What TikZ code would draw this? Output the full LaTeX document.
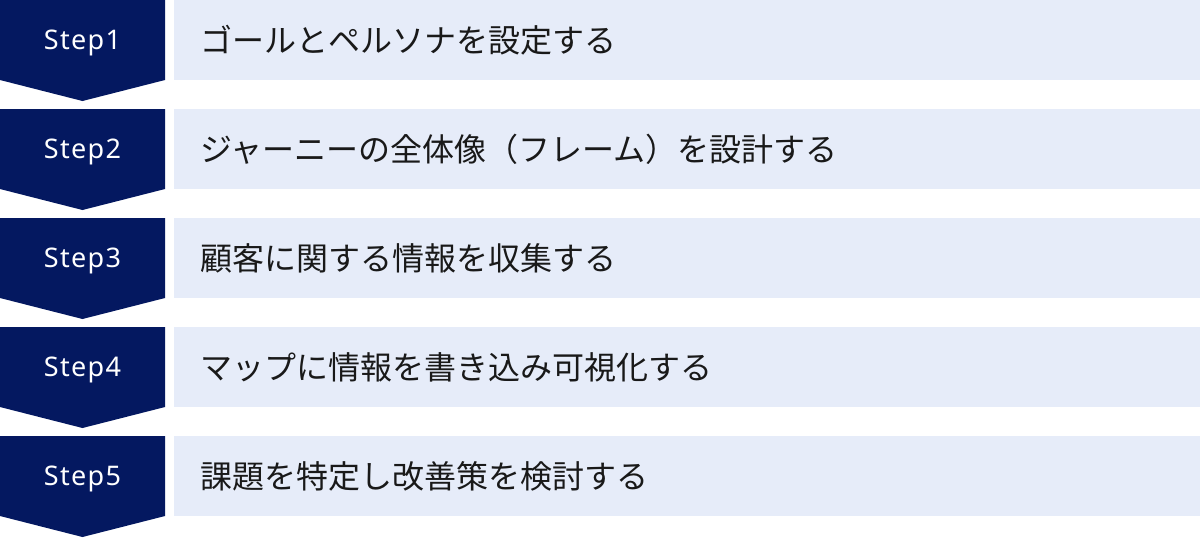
\documentclass[tikz,border=0pt]{standalone}
\usepackage{fontspec}
\setmainfont{Noto Sans}
\newfontfamily\jpfont{Noto Sans CJK JP}
\newfontfamily\stepfont[LetterSpace=5]{Noto Sans}
\usepackage{tikz}

\definecolor{navy}{HTML}{041860}
\definecolor{paleblue}{HTML}{E6ECF9}

\begin{document}
\begin{tikzpicture}[x=0.5pt,y=-0.5pt,
        stepchev/.style={fill=navy},
        steplabel/.style={anchor=base, inner sep=0pt, text=white, font=\stepfont\fontsize{13.5pt}{16pt}\selectfont},
        taskbox/.style={fill=paleblue},
        tasktext/.style={anchor=west, inner sep=0pt, text height=14.1pt, text depth=1.9pt, text=black!90, font=\jpfont\fontsize{16pt}{19pt}\selectfont}]
        \useasboundingbox (0,0) rectangle (1200,538);

        % Step 1
        \fill[stepchev] (0,0) -- (165,0) -- (165,80) -- (82.5,101) -- (0,80) -- cycle;
        \node[steplabel] (step1) at (82.5,49.5) {Step1};
        \fill[taskbox] (174,0) rectangle (1200,80);
        \node[tasktext] (task1) at (200,40) {ゴールとペルソナを設定する};

        % Step 2
        \fill[stepchev] (0,109) -- (165,109) -- (165,189) -- (82.5,210) -- (0,189) -- cycle;
        \node[steplabel] (step2) at (82.5,158.5) {Step2};
        \fill[taskbox] (174,109) rectangle (1200,189);
        \node[tasktext] (task2) at (200,149) {ジャーニーの全体像（フレーム）を設計する};

        % Step 3
        \fill[stepchev] (0,218) -- (165,218) -- (165,298) -- (82.5,319) -- (0,298) -- cycle;
        \node[steplabel] (step3) at (82.5,267.5) {Step3};
        \fill[taskbox] (174,218) rectangle (1200,298);
        \node[tasktext] (task3) at (200,258) {顧客に関する情報を収集する};

        % Step 4
        \fill[stepchev] (0,327) -- (165,327) -- (165,407) -- (82.5,428) -- (0,407) -- cycle;
        \node[steplabel] (step4) at (82.5,376.5) {Step4};
        \fill[taskbox] (174,327) rectangle (1200,407);
        \node[tasktext] (task4) at (200,367) {マップに情報を書き込み可視化する};

        % Step 5
        \fill[stepchev] (0,436) -- (165,436) -- (165,516) -- (82.5,537) -- (0,516) -- cycle;
        \node[steplabel] (step5) at (82.5,485.5) {Step5};
        \fill[taskbox] (174,436) rectangle (1200,516);
        \node[tasktext] (task5) at (200,476) {課題を特定し改善策を検討する};
    \end{tikzpicture}
\end{document}
